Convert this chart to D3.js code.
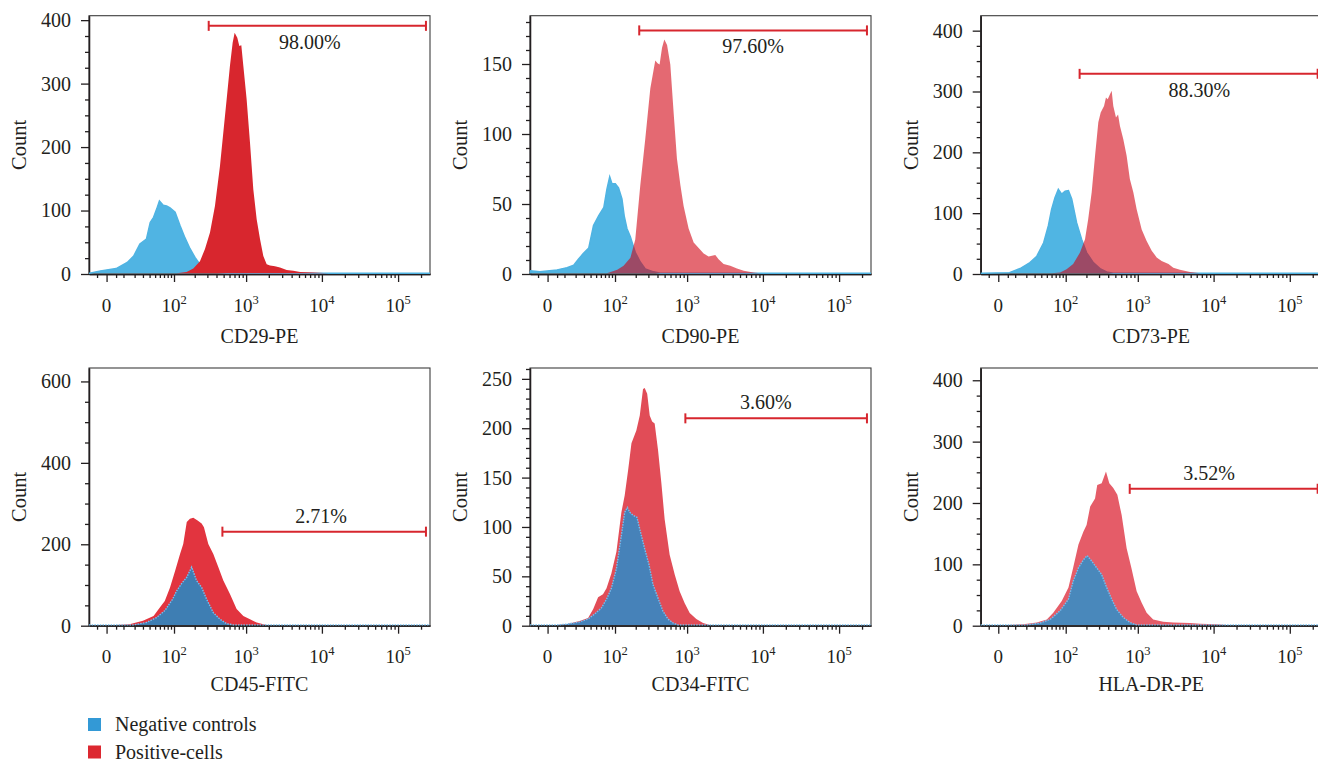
<!DOCTYPE html>
<html>
<head>
<meta charset="utf-8">
<script src="https://cdn.jsdelivr.net/npm/d3@7"></script>
<style>
  body { margin: 0; background: #fff; }
  text { font-family: "Liberation Serif", "Times New Roman", serif; fill: #231f20; }
  .axis path, .axis line { stroke: #231f20; stroke-width: 1.3; }
  .axis text { font-size: 20px; fill: #231f20; font-family: "Liberation Serif", serif; }
</style>
</head>
<body>
<svg id="chart" width="1318" height="761"></svg>
<script>
// ---- data (fluorescence value, count) ----
const markers = ["CD29-PE", "CD90-PE", "CD73-PE", "CD45-FITC", "CD34-FITC", "HLA-DR-PE"];
const gateLabels = ["98.00%", "97.60%", "88.30%", "2.71%", "3.60%", "3.52%"];
const gateFrom = [313, 224, 160, 481, 948, 780];
const gateTo = [232000, 232000, 232000, 232000, 232000, 232000];
const gateLevel = [391, 174, 329, 231, 210, 223];
const gateLabelAt = [6960, 7450, 6480, 9720, 10900, 8740];

const yMaxes = [407, 184.5, 424.6, 633, 261, 420];
const yTicks = [
  [0, 100, 200, 300, 400],
  [0, 50, 100, 150],
  [0, 100, 200, 300, 400],
  [0, 200, 400, 600],
  [0, 50, 100, 150, 200, 250],
  [0, 100, 200, 300, 400]
];
const yMinorSteps = [25, 10, 25, 50, 10, 25];

const xMin = -10.5, xMax = 262144;
const xMajorTicks = [0, 100, 1000, 10000, 100000];
const xMinorTicks = [-5, 5, 10, 20, 30, 40, 50, 60, 70, 80, 90,
  200, 300, 400, 500, 600, 700, 800, 900,
  2000, 3000, 4000, 5000, 6000, 7000, 8000, 9000,
  20000, 30000, 40000, 50000, 60000, 70000, 80000, 90000, 200000];

const legendLabels = ["Negative controls", "Positive-cells"];

const cd29Neg = [[-10, 0], [-3, 3.7], [5, 7.4], [13, 17], [19, 27], [26, 46], [35, 54], [41, 80], [47, 88],
  [53, 101], [59, 114], [68, 107], [77, 106], [87, 103], [104, 96], [123, 75], [145, 56], [171, 39],
  [202, 25], [237, 14], [293, 6], [362, 2], [550, 0]];
const cd29Pos = [[110, 0], [153, 2], [191, 7.4], [237, 19], [278, 38], [326, 64], [381, 106], [446, 169],
  [505, 232], [549, 274], [608, 327], [661, 363], [703, 379], [763, 371], [812, 358], [863, 359],
  [918, 327], [1016, 274], [1126, 206], [1247, 132], [1381, 85], [1529, 54], [1692, 27], [1873, 14],
  [2073, 12], [2413, 11], [2809, 9], [3438, 5], [4208, 4], [5166, 2], [7714, 1], [12140, 0]];

const cd90Neg = [[-10, 1.7], [-4, 1], [5, 2.4], [12, 4], [18, 5.7], [23, 10], [29, 14], [37, 18], [45, 34],
  [55, 41], [67, 47], [75, 60], [83, 69], [90, 64], [101, 64], [113, 61], [127, 53], [137, 41],
  [150, 32], [168, 26], [197, 15], [232, 8], [272, 3], [354, 1], [436, 0]];
const cd90Pos = [[75, 0], [108, 2.4], [134, 5.3], [168, 11], [197, 24], [232, 63], [272, 96], [319, 132],
  [373, 152], [401, 150], [427, 149], [461, 161], [495, 167], [539, 163], [596, 149], [660, 115],
  [731, 82], [813, 63], [898, 48], [1047, 32], [1222, 22], [1425, 18], [1657, 14], [1929, 12],
  [2137, 12.4], [2362, 13], [2610, 10], [3040, 6.5], [3720, 5.3], [4560, 3.3], [5600, 1.7],
  [7510, 0.5], [9230, 0]];

const cd73Neg = [[-9, 0], [6, 1], [14, 7.7], [24, 17.5], [33, 28], [44, 50], [53, 78], [60, 105], [68, 124],
  [77, 138], [87, 130], [98, 135], [110, 136], [123, 122], [145, 83], [171, 56], [201, 34], [250, 17.5],
  [309, 7.7], [381, 2], [469, 0]];
const cd73Pos = [[60, 0], [82, 1], [103, 6.6], [129, 15], [162, 34], [191, 56], [212, 89], [237, 133],
  [264, 193], [293, 248], [316, 264], [351, 275], [373, 289], [394, 286], [423, 294], [446, 300],
  [469, 275], [510, 256], [544, 261], [577, 242], [640, 220], [709, 193], [783, 155], [871, 133],
  [965, 105], [1126, 72], [1310, 53], [1530, 37], [1780, 26], [2070, 20], [2550, 15], [2950, 9],
  [3610, 5.5], [4900, 2], [6620, 0]];

const cd45Neg = [[19, 0], [35, 6], [53, 18], [72, 35], [95, 63], [110, 84], [130, 102], [154, 117],
  [181, 142], [212, 109], [250, 92], [293, 63], [362, 30], [446, 14], [549, 3], [675, 0]];
const cd45Pos = [[5, 0], [15, 1.6], [30, 10], [47, 22], [60, 43], [72, 59], [87, 92], [104, 133],
  [123, 174], [137, 199], [154, 253], [171, 261], [191, 263], [217, 257], [250, 249], [269, 240],
  [309, 199], [362, 174], [423, 142], [495, 109], [608, 76], [747, 39], [918, 22], [1126, 14],
  [1381, 6], [1692, 1.6], [1873, 0]];

const cd34Neg = [[5, 0], [11.6, 0.7], [24.5, 3], [36, 6], [47, 11], [61, 17], [74, 26], [88, 37],
  [105, 57], [124.5, 91], [139, 114], [152, 119], [165, 114], [183, 111], [208, 109], [228, 97],
  [267, 77], [306, 61], [347, 41], [407, 27], [474, 14], [553, 6], [648, 2], [756, 0]];
const cd34Pos = [[5, 0], [11.6, 0.7], [24.5, 4], [36, 7], [44.6, 16], [54, 28], [65, 31], [74, 37],
  [88, 52], [105, 74], [124.5, 114], [139, 131], [156, 157], [174, 184], [204, 197], [228, 212],
  [253, 239], [267, 240], [289, 234], [313, 212], [338, 206], [366, 204], [407, 177], [451, 144],
  [500, 107], [584, 71], [683, 51], [795, 34], [929, 22], [1083, 12], [1325, 6], [1630, 2], [1990, 0]];

const hlaNeg = [[20, 0], [38, 3], [57, 9], [82, 23], [110, 42], [129, 71], [154, 93], [181, 106],
  [205, 113], [237, 104], [278, 93], [326, 82], [381, 61], [446, 42], [522, 25], [640, 12],
  [783, 4], [965, 0]];
const hlaPos = [[5, 0], [17, 1], [33, 4], [50, 9], [64, 20], [87, 39], [110, 61], [129, 93], [154, 131],
  [181, 152], [201, 163], [226, 193], [264, 206], [283, 228], [326, 231], [373, 250], [414, 231],
  [469, 223], [532, 212], [608, 179], [709, 125], [820, 93], [965, 55], [1126, 36], [1310, 20],
  [1600, 9], [2170, 5], [2950, 4], [4900, 3], [6620, 2], [10980, 1], [14900, 0]];

const negSeries = [cd29Neg, cd90Neg, cd73Neg, cd45Neg, cd34Neg, hlaNeg];
const posSeries = [cd29Pos, cd90Pos, cd73Pos, cd45Pos, cd34Pos, hlaPos];

// ---- layout and styles ----
const colLeft = [89, 530, 980.7];
const rowTop = [15.7, 368];
const rowBottom = [274, 625.7];
const titleOffset = [69, 65];
const plotW = 341;

const styles = [
  { neg: "#50b4e3", pos: "#d8262e", posOpacity: 1, negOnTop: false, negStroke: "#4fb3e2", dash: null },
  { neg: "#50b5e3", pos: "#d10010", posOpacity: 0.59, negOnTop: false, negStroke: "#4fb3e2", dash: null },
  { neg: "#50b5e3", pos: "#d10010", posOpacity: 0.59, negOnTop: false, negStroke: "#4fb3e2", dash: null },
  { neg: "#3e7eb3", pos: "#e2343f", posOpacity: 1, negOnTop: true, negStroke: "#74bff0", dash: "1.5,1.2" },
  { neg: "#4682b9", pos: "#e14c57", posOpacity: 1, negOnTop: true, negStroke: "#74bff0", dash: "1.5,1.2" },
  { neg: "#4988bb", pos: "#e55c68", posOpacity: 1, negOnTop: true, negStroke: "#74bff0", dash: "1.5,1.2" }
];
const gateColor = "#d7262e";

const svg = d3.select("#chart");

markers.forEach((marker, i) => {
  const col = i % 3, row = Math.floor(i / 3);
  const left = colLeft[col], top = rowTop[row], bottom = rowBottom[row];
  const st = styles[i];

  const x = d3.scaleSymlog().constant(15).domain([xMin, xMax]).range([left, left + plotW]);
  const y = d3.scaleLinear().domain([0, yMaxes[i]]).range([bottom, top]);

  const g = svg.append("g");

  // frame
  g.append("rect")
    .attr("x", left).attr("y", top)
    .attr("width", plotW).attr("height", bottom - top)
    .attr("fill", "none").attr("stroke", "#3c3c3c").attr("stroke-width", 1.1);

  // axes
  g.append("g").attr("class", "axis")
    .attr("transform", `translate(0,${bottom})`)
    .call(d3.axisBottom(x).tickValues(xMinorTicks).tickSize(4).tickSizeOuter(0).tickFormat(""));
  g.append("g").attr("class", "axis")
    .attr("transform", `translate(0,${bottom})`)
    .call(d3.axisBottom(x).tickValues(xMajorTicks).tickSize(8).tickSizeOuter(0).tickFormat(""));

  const minors = d3.range(0, yMaxes[i], yMinorSteps[i]).filter(v => !yTicks[i].includes(v));
  g.append("g").attr("class", "axis")
    .attr("transform", `translate(${left},0)`)
    .call(d3.axisLeft(y).tickValues(minors).tickSize(4).tickSizeOuter(0).tickFormat(""));
  g.append("g").attr("class", "axis")
    .attr("transform", `translate(${left},0)`)
    .call(d3.axisLeft(y).tickValues(yTicks[i]).tickSize(8).tickSizeOuter(0).tickPadding(10));

  // x tick labels with superscript exponents
  xMajorTicks.forEach(v => {
    const t = g.append("text")
      .attr("x", x(v)).attr("y", bottom + 37.5)
      .attr("text-anchor", "middle")
      .style("font-size", "19px");
    if (v === 0) {
      t.text("0");
    } else {
      t.append("tspan").text("10");
      t.append("tspan").attr("dy", -8).style("font-size", "12.5px").text(Math.round(Math.log10(v)));
    }
  });

  // axis titles
  g.append("text")
    .attr("x", left + plotW / 2).attr("y", bottom + titleOffset[row])
    .attr("text-anchor", "middle")
    .style("font-size", "20px")
    .text(marker);
  g.append("text")
    .attr("transform", `translate(${left - 70},${(top + bottom) / 2}) rotate(-90)`)
    .attr("text-anchor", "middle")
    .attr("dominant-baseline", "central")
    .style("font-size", "20.5px")
    .text("Count");

  // histograms
  const area = d3.area()
    .x(d => x(d[0]))
    .y0(y(0))
    .y1(d => y(d[1]));
  const line = d3.line()
    .x(d => x(d[0]))
    .y(d => y(d[1]));

  const curves = g.append("g").attr("transform", "translate(0,-0.8)");
  const negData = [[xMin, 0], ...negSeries[i], [xMax, 0]];

  const drawNeg = () => {
    curves.append("path").datum(negData)
      .attr("d", area).attr("fill", st.neg);
    curves.append("path").datum(negData)
      .attr("d", line).attr("fill", "none")
      .attr("stroke", st.negStroke).attr("stroke-width", 1.4)
      .attr("stroke-dasharray", st.dash);
  };
  const drawPos = () => {
    curves.append("path").datum(posSeries[i])
      .attr("d", area).attr("fill", st.pos).attr("fill-opacity", st.posOpacity);
  };
  if (st.negOnTop) { drawPos(); drawNeg(); } else { drawNeg(); drawPos(); }

  // gate
  const gy = y(gateLevel[i]);
  const gx0 = x(gateFrom[i]), gx1 = x(gateTo[i]);
  const gate = g.append("g").attr("stroke", gateColor).attr("stroke-width", 2);
  gate.append("line").attr("x1", gx0).attr("x2", gx1).attr("y1", gy).attr("y2", gy);
  gate.append("line").attr("x1", gx0).attr("x2", gx0).attr("y1", gy - 5).attr("y2", gy + 5);
  gate.append("line").attr("x1", gx1).attr("x2", gx1).attr("y1", gy - 5).attr("y2", gy + 5);
  g.append("text")
    .attr("x", x(gateLabelAt[i]))
    .attr("y", row === 0 ? gy + 23 : gy - 9)
    .attr("text-anchor", "middle")
    .style("font-size", "20px")
    .text(gateLabels[i]);
});

// legend
const legendColors = ["#3399d6", "#dc2830"];
const legend = svg.append("g").attr("transform", "translate(88,718)");
legendLabels.forEach((label, k) => {
  legend.append("rect")
    .attr("x", 0).attr("y", k * 27.5)
    .attr("width", 13).attr("height", 13)
    .attr("fill", legendColors[k]);
  legend.append("text")
    .attr("x", 27).attr("y", k * 27.5 + 13)
    .style("font-size", "20px")
    .text(label);
});
</script>
</body>
</html>
